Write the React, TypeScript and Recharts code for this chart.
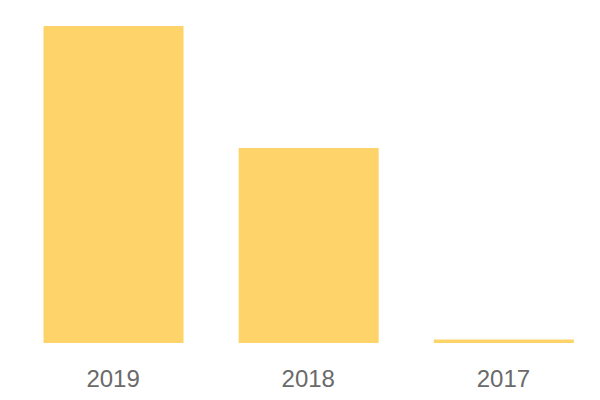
import React from "react";
import { BarChart, Bar, XAxis, YAxis } from "recharts";

const years = ["2019", "2018", "2017"];
const values = [100, 61.5, 1.07];

const data = years.map((y, i) => ({ year: y, value: values[i] }));

export default function App() {
  return (
    <div style={{ width: 592, height: 392 }}>
      <BarChart
        width={593}
        height={392}
        data={data}
        margin={{ top: 18, right: 0, bottom: 0, left: 7.5 }}
        barCategoryGap={0}
      >
        <XAxis
          dataKey="year"
          axisLine={false}
          tickLine={false}
          height={57}
          tickMargin={21}
          tick={{ fill: "#6a6a6a", fontSize: 24, fontFamily: "Liberation Sans" }}
        />
        <YAxis hide domain={[0, 100]} />
        <Bar dataKey="value" fill="#FED46A" barSize={140} isAnimationActive={false} />
      </BarChart>
    </div>
  );
}
